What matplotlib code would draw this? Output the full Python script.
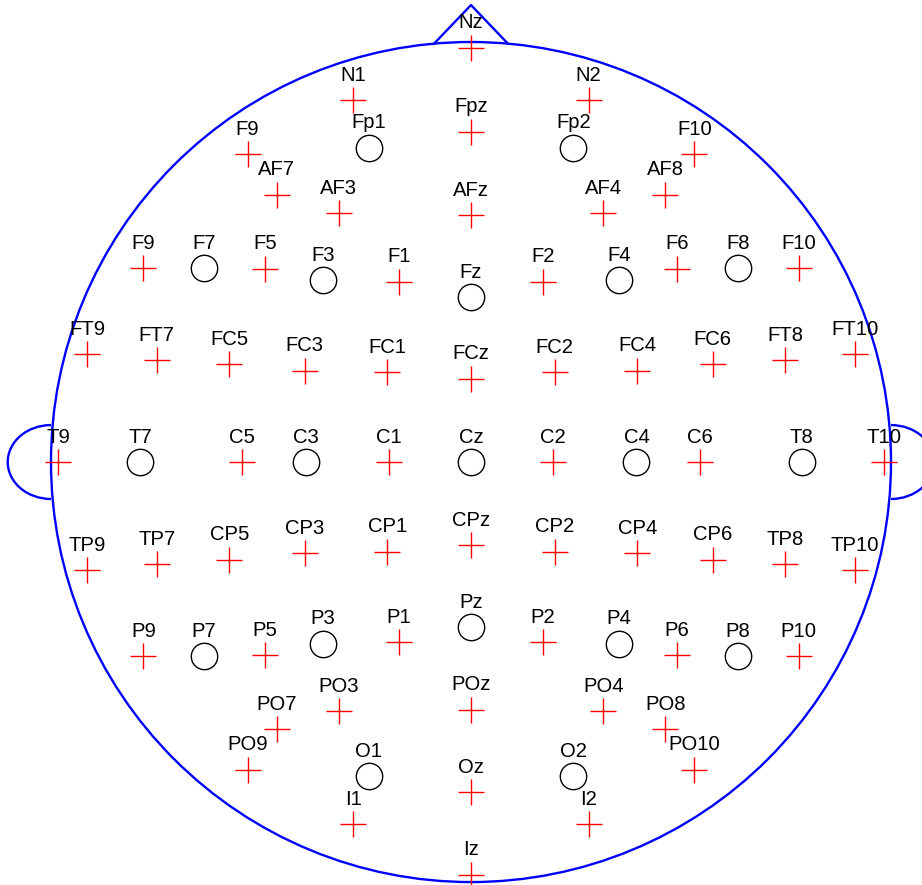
import numpy as np
import matplotlib
matplotlib.use('Agg')
import matplotlib.pyplot as plt
from matplotlib.patches import Circle, Arc

plt.rcParams['font.family'] = ['Liberation Sans', 'DejaVu Sans']

# electrode positions, head radius = 1, nose up
names = ['Nz', 'N1', 'N2', 'Fpz', 'Fp1', 'Fp2', 'F9', 'F10', 'AF7', 'AF8',
         'AF3', 'AF4', 'AFz', 'F9', 'F7', 'F5', 'F3', 'F1', 'Fz', 'F2',
         'F4', 'F6', 'F8', 'F10', 'FT9', 'FT7', 'FC5', 'FC3', 'FC1', 'FCz',
         'FC2', 'FC4', 'FC6', 'FT8', 'FT10', 'T9', 'T7', 'C5', 'C3', 'C1',
         'Cz', 'C2', 'C4', 'C6', 'T8', 'T10', 'TP9', 'TP7', 'CP5', 'CP3',
         'CP1', 'CPz', 'CP2', 'CP4', 'CP6', 'TP8', 'TP10', 'P9', 'P7', 'P5',
         'P3', 'P1', 'Pz', 'P2', 'P4', 'P6', 'P8', 'P10', 'PO3', 'PO4',
         'POz', 'PO7', 'PO8', 'PO9', 'PO10', 'O1', 'O2', 'Oz', 'I1', 'I2',
         'Iz']
xs = [0.0, -0.280, 0.280, 0.0, -0.244, 0.244, -0.532, 0.532, -0.463, 0.463,
      -0.315, 0.315, 0.0, -0.780, -0.636, -0.491, -0.353, -0.172, 0.0, 0.172,
      0.353, 0.491, 0.636, 0.780, -0.914, -0.748, -0.575, -0.396, -0.199, 0.0,
      0.199, 0.396, 0.575, 0.748, 0.914, -0.983, -0.787, -0.546, -0.394, -0.196,
      0.0, 0.196, 0.394, 0.546, 0.787, 0.983, -0.914, -0.748, -0.575, -0.396,
      -0.199, 0.0, 0.199, 0.396, 0.575, 0.748, 0.914, -0.780, -0.636, -0.491,
      -0.353, -0.172, 0.0, 0.172, 0.353, 0.491, 0.636, 0.780, -0.315, 0.315,
      0.0, -0.463, 0.463, -0.532, 0.532, -0.244, 0.244, 0.0, -0.280, 0.280,
      0.0]
ys = [0.986, 0.862, 0.862, 0.786, 0.748, 0.748, 0.733, 0.733, 0.636, 0.636,
      0.593, 0.593, 0.588, 0.462, 0.462, 0.460, 0.433, 0.429, 0.393, 0.429,
      0.433, 0.460, 0.462, 0.462, 0.257, 0.243, 0.233, 0.217, 0.214, 0.198,
      0.214, 0.217, 0.233, 0.243, 0.257, 0.0, 0.0, 0.0, 0.0, 0.0,
      0.0, 0.0, 0.0, 0.0, 0.0, 0.0, -0.257, -0.243, -0.233, -0.217,
      -0.214, -0.198, -0.214, -0.217, -0.233, -0.243, -0.257, -0.462, -0.462, -0.460,
      -0.433, -0.429, -0.393, -0.429, -0.433, -0.460, -0.462, -0.462, -0.593, -0.593,
      -0.590, -0.636, -0.636, -0.733, -0.733, -0.748, -0.748, -0.786, -0.862, -0.862,
      -0.983]

# standard 10-20 sites get a circle, everything else a cross
sites_1020 = ['Fp1', 'Fp2', 'F7', 'F3', 'Fz', 'F4', 'F8', 'T7', 'C3', 'Cz',
              'C4', 'T8', 'P7', 'P3', 'Pz', 'P4', 'P8', 'O1', 'O2']

fig = plt.figure(figsize=(9.22, 8.85), dpi=100)
ax = fig.add_axes([0, 0, 1, 1])

# head, nose and ears
head_lw = 1.7
ax.add_patch(Circle((0, 0), 1.0, fill=False, color='b', lw=head_lw))
ax.plot([-0.088, 0.0, 0.088], [0.996, 1.088, 0.996], color='b', lw=head_lw)
ax.add_patch(Arc((-1.0, 0), 0.206, 0.176, theta1=90, theta2=270, color='b', lw=head_lw))
ax.add_patch(Arc((1.0, 0), 0.206, 0.176, theta1=-90, theta2=90, color='b', lw=head_lw))

for name, x, y in zip(names, xs, ys):
    if name in sites_1020:
        ax.plot(x, y, 'o', ms=19, mfc='none', mec='k', mew=1.0)
    else:
        ax.plot(x, y, '+', ms=19, color='r', mew=1.0)
    ax.annotate(name, (x, y), xytext=(0, 14), textcoords='offset points',
                ha='center', va='baseline', fontsize=14.6)

ax.set_xlim(-1.1214, 1.0738)
ax.set_ylim(-1.007, 1.1)
ax.axis('off')

fig.savefig('out.png', dpi=100)
